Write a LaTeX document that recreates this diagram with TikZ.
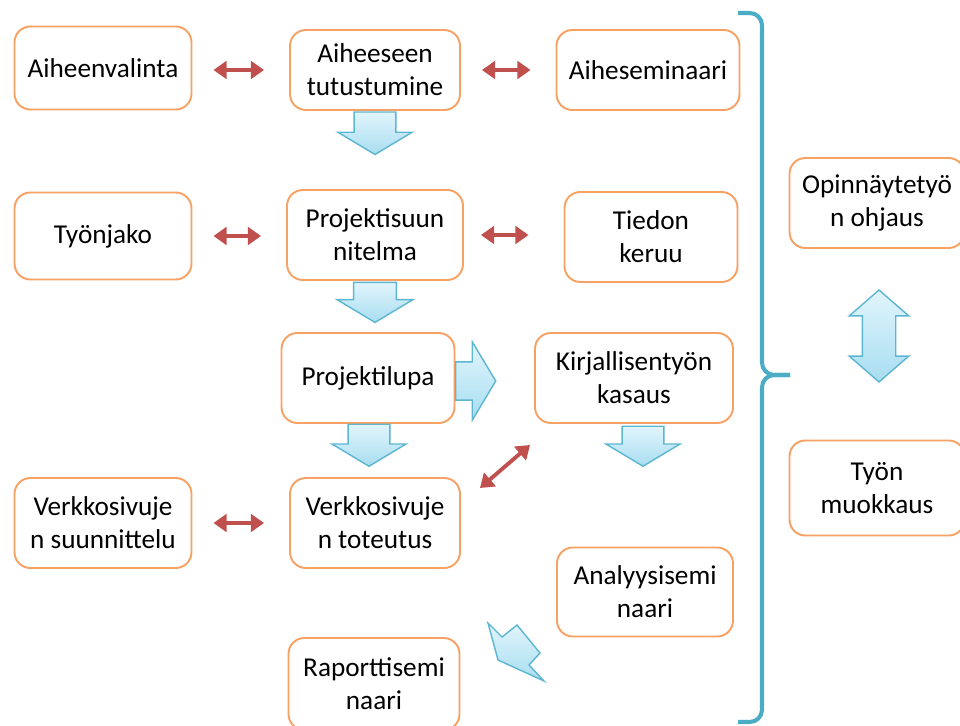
\documentclass[tikz,border=0pt]{standalone}
\usepackage{fontspec}
\setmainfont{Carlito}
\usepackage{tikz}
\usetikzlibrary{arrows.meta,shapes.arrows}
\definecolor{boxorange}{RGB}{247,162,100}
\definecolor{arrowred}{RGB}{192,80,77}
\definecolor{bracketblue}{RGB}{75,172,198}
\definecolor{arrowedge}{RGB}{92,182,210}
\definecolor{arrowtop}{RGB}{225,245,252}
\definecolor{arrowfill}{RGB}{168,221,240}

\begin{document}
\begin{tikzpicture}[x=0.02cm, y=-0.02cm,
    box/.style={draw=boxorange, line width=1.1pt, rounded corners=9pt, fill=white, align=center,
        minimum width=3.5cm, minimum height=1.8cm, inner sep=0pt, font=\fontsize{15.5}{18.7}\selectfont},
    twoway/.style={draw=arrowred, line width=2.2pt, {Triangle[length=7.5pt,width=10pt]}-{Triangle[length=7.5pt,width=10pt]},
        shorten <=0.42cm, shorten >=0.5cm},
    pale/.style={draw=arrowedge, line width=0.8pt, top color=arrowtop, bottom color=arrowfill},
    fat/.style={pale, single arrow, inner xsep=0.4cm, inner ysep=0pt, single arrow tip angle=118,
        single arrow head extend=0.32cm, minimum height=0.85cm, minimum width=1.48cm},
    bracket/.style={draw=bracketblue, line width=2.3pt, rounded corners=7pt}]
        \path [use as bounding box, clip] (0,0) rectangle (960,726);
        \node [box, minimum width=3.54cm, minimum height=1.66cm] (valinta) at (103,68) {Aiheenvalinta};
        \node [box, minimum width=3.4cm, minimum height=1.6cm] (tutustuminen) at (375,70) {Aiheeseen\\tutustumine};
        \node [box, minimum width=3.66cm, minimum height=1.6cm] (aihesem) at (648,70) {Aiheseminaari};
        \node [box, minimum width=3.54cm, minimum height=1.74cm] (tyonjako) at (103,236) {Työnjako};
        \node [box, minimum width=3.52cm] (suunnitelma) at (375,235) {Projektisuun\\nitelma};
        \node [box, minimum width=3.46cm] (keruu) at (651,237) {Tiedon\\keruu};
        \node [box, minimum width=3.46cm] (lupa) at (368,378) {Projektilupa};
        \node [box, minimum width=3.96cm] (kasaus) at (634,378) {Kirjallisentyön\\kasaus};
        \node [box, minimum width=3.54cm] (suunnittelu) at (103,523) {Verkkosivuje\\n suunnittelu};
        \node [box, minimum width=3.4cm] (toteutus) at (375,523) {Verkkosivuje\\n toteutus};
        \node [box, minimum width=3.52cm, minimum height=1.78cm] (analyysi) at (645,592) {Analyysisemi\\naari};
        \node [box, minimum width=3.42cm, minimum height=1.84cm] (raportti) at (374,684) {Raporttisemi\\naari};
        \node [box, minimum width=3.5cm] (ohjaus) at (877,203) {Opinnäytetyö\\n ohjaus};
        \node [box, minimum width=3.5cm, minimum height=1.9cm] (muokkaus) at (877,488) {Työn\\muokkaus};
        \draw [twoway] (tutustuminen.west -| valinta.east) -- (tutustuminen.west);
        \draw [twoway] (tutustuminen.east) -- (tutustuminen.east -| aihesem.west);
        \draw [twoway] (tyonjako.east) -- (tyonjako.east -| suunnitelma.west);
        \draw [twoway, shorten <=0.34cm, shorten >=0.7cm] (suunnitelma.east) -- (suunnitelma.east -| keruu.west);
        \draw [twoway] (suunnittelu.east) -- (suunnittelu.east -| toteutus.west);
        \coordinate (d1) at (480,488);
        \coordinate (d2) at (530,445);
        \draw [twoway, shorten <=0pt, shorten >=0pt] (d1) -- (d2);
        \node [fat, shape border rotate=270] (f1) at (375,127) {};
        \node [fat, shape border rotate=270, minimum width=1.52cm, minimum height=0.8cm] (f2) at (375,296) {};
        \node [fat, shape border rotate=270, minimum height=0.84cm] (f3) at (369,439) {};
        \node [fat, shape border rotate=270, minimum height=0.8cm] (f4) at (643,440) {};
        \node [fat, inner xsep=0pt, inner ysep=0.37cm, minimum width=1.54cm, minimum height=0.8cm, single arrow head extend=0.4cm] (f5) at (470,381) {};
        \node [pale, double arrow, inner xsep=0.32cm, inner ysep=0pt, shape border rotate=90, double arrow tip angle=98,
            double arrow head extend=0.26cm, minimum height=1.84cm, minimum width=1.16cm] (f6) at (879,336) {};
        \draw [pale] (488,623) -- (502,637) -- (517,625) -- (540,653) -- (529,665) -- (544,681) -- (498,660) -- cycle;
        \draw [bracket] (738,13) -| (762,375) -- (790,375);
        \draw [bracket] (790,375) -- (762,375) |- (738,722);
\end{tikzpicture}
\end{document}
